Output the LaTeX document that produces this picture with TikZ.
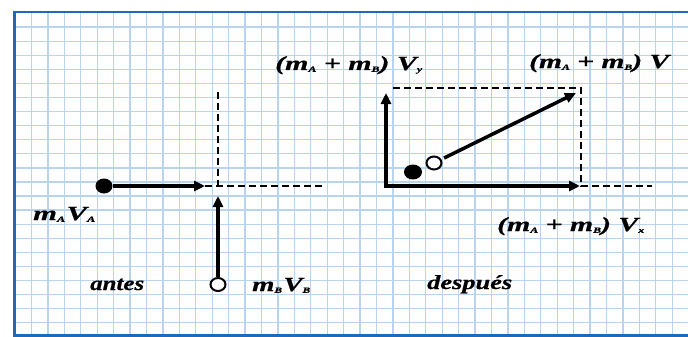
\documentclass[tikz,border=0pt]{standalone}
\usepackage{fontspec}
\setmainfont{Liberation Serif}[BoldItalicFeatures={FakeBold=0.6}]
\usetikzlibrary{arrows.meta,shapes.geometric}
\definecolor{gridblue}{RGB}{184,212,240}
\definecolor{frameblue}{RGB}{30,105,185}
\newcommand\sbs[1]{\raisebox{-1.8pt}{\fontsize{8}{8}\selectfont #1}}
\newcommand\fitw[2]{\resizebox{#1}{\height}{#2}}
\begin{document}
\begin{tikzpicture}[x=1pt,y=-1pt,
  gridline/.style={gridblue,line width=1.3pt},
  vec/.style={line width=3.5pt,-{Triangle[length=11pt,width=10pt]}},
  vecboth/.style={line width=3.5pt,{Triangle[length=11pt,width=10pt]}-{Triangle[length=11pt,width=10pt]}},
  guide/.style={line width=1.8pt,dash pattern=on 7pt off 4pt},
  fulldot/.style={ellipse,fill=black,minimum width=17pt,minimum height=15pt,inner sep=0},
  opendot/.style={ellipse,draw=black,fill=white,line width=2pt,minimum width=15pt,minimum height=13pt,inner sep=0},
  lbl/.style={anchor=base west,inner sep=0,font=\fontsize{20}{22}\selectfont\bfseries\itshape}]
\useasboundingbox (0,0) rectangle (688,337);
\fill[white] (0,0) rectangle (688,337);
% grid
\foreach \k in {1,...,40} \draw[gridline] ({15+16.43*\k},13) -- ({15+16.43*\k},335);
\foreach \k in {1,...,22} \draw[gridline] (15,{13+14.08*\k}) -- (688,{13+14.08*\k});
% frame
\draw[frameblue,line width=2pt] (13,12.5) -- (688,12.5);
\draw[frameblue,line width=3pt] (14.5,11.5) -- (14.5,335.5) -- (688,335.5);
% before
\node[fulldot] (A) at (104,186) {};
\coordinate (Atip) at (205,186);
\coordinate (X) at (218,186);
\coordinate (Xtop) at (218,92);
\coordinate (Xright) at (325,186);
\draw[guide] (Xtop) -- (X);
\draw[guide] (Atip) -- (Xright);
\draw[vec] (A) -- (Atip);
\node[opendot] (B) at (218,284.5) {};
\coordinate (Btip) at (218,196);
\draw[vec] (B) -- (Btip);
% after
\coordinate (O) at (386,186);
\coordinate (Ytip) at (386,93);
\coordinate (Xtip2) at (580,186);
\coordinate (R1) at (393,88);
\coordinate (R2) at (581,88);
\coordinate (R3) at (581,186);
\coordinate (R4) at (652,186);
\draw[guide] (R1) -- (R2) -- (R3) -- (R4);
\draw[vecboth] (Ytip) -- (O) -- (Xtip2);
\node[fulldot,minimum width=18pt] (C) at (413,172) {};
\node[opendot] (D) at (434,163) {};
\coordinate (Vtip) at (576,93);
\draw[vec,shorten <=3pt] (D) -- (Vtip);
% labels
\node[lbl] (lA) at (33,220) {\fitw{62pt}{m\sbs{A}\kern1pt V\sbs{A}}};
\node[lbl] (antes) at (90,290) {\fitw{54pt}{antes}};
\node[lbl] (lB) at (252,291) {\fitw{58pt}{m\sbs{B}\kern1pt V\sbs{B}}};
\node[lbl] (lY) at (275,70) {\fitw{147pt}{(m\sbs{A} + m\sbs{B}) V\sbs{y}}};
\node[lbl] (lV) at (529,68) {\fitw{140pt}{(m\sbs{A} + m\sbs{B}) V}};
\node[lbl] (lX) at (497,231) {\fitw{147pt}{(m\sbs{A} + m\sbs{B}) V\sbs{x}}};
\node[lbl] (desp) at (427,289) {\fitw{85pt}{después}};
\end{tikzpicture}
\end{document}
